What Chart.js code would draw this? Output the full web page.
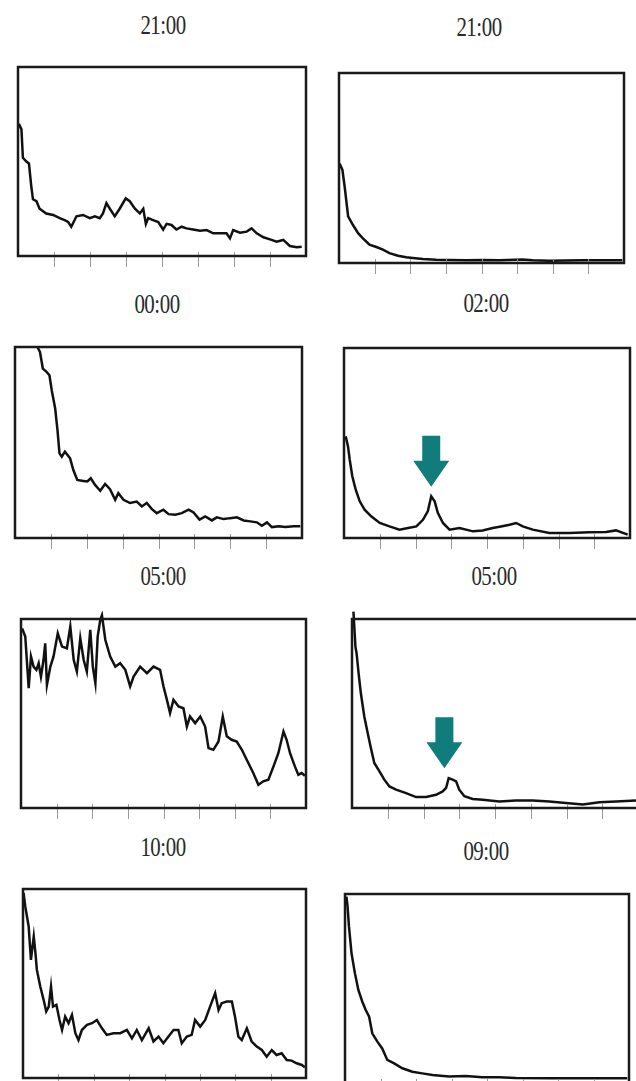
<!DOCTYPE html>
<html>
<head>
<meta charset="utf-8">
<script src="https://cdn.jsdelivr.net/npm/chart.js@4"></script>
<style>
  body { margin: 0; background: #fff; width: 636px; height: 1081px; overflow: hidden; position: relative; }
  canvas { position: absolute; }
  .title {
    position: absolute; font-family: "Liberation Serif", serif; font-size: 22px; color: #2a2a2a;
    transform: translate(-50%, -50%) scale(0.95, 1.2); white-space: nowrap; letter-spacing: -0.5px;
  }
</style>
</head>
<body>
<script>
// panel titles, left column then right column, row by row
const titles = ['21:00', '21:00', '00:00', '02:00', '05:00', '05:00', '10:00', '09:00'];
const tickValues = [12.5, 25, 37.5, 50, 62.5, 75, 87.5];

const xs1 = [0.3,1.2,1.7,2.9,3.8,4.6,5.2,6.4,7.5,9.8,12.2,14.5,16.2,17.4,18.5,20.3,22.6,24.9,26.7,28.4,29.5,30.7,31.9,33.6,35.3,37.4,38.8,40.6,42.3,43.5,44.4,45.2,46.9,48.7,50.4,51.6,53.3,55,56.8,58.5,60.8,63.2,65.5,67.8,70.1,72.4,73.6,74.7,77.1,79.4,81.1,82.9,85.2,87.5,89.8,92.1,94.4,96.8,98.5];
const ys1 = [70,67,52,50,49,37,30,29,25,22.5,21.7,20,19,18,15.5,21,21.7,20,21,20,22.5,28,25,21,25,30.5,29,25,22.5,25,17,20,19,18,14,17,16.4,14,15.5,14.6,14,13.4,13.7,12,12,12,9.3,13.7,12.3,12.9,14.6,12,9.9,8.8,7.6,8.5,5.3,4.6,4.9];

const xs2 = [0.2,1.2,2,3.2,4.9,6.7,8.4,10.7,13.1,15.4,17.7,20.7,23.6,25.9,29.4,34.1,38.7,44.6,50.4,56.2,64.4,67.9,73.7,85.4,99.4];
const ys2 = [52.4,49,40,24.5,20,15.7,13,9.6,8.4,7,5.2,3.8,3,2.6,2.1,1.7,1.6,1.4,1.6,1.4,1.9,1.4,1.2,1.4,1.4];

const xs3 = [7.8,8.7,9.7,11,12,12.8,14,14.8,15.5,16.3,17.4,19.2,20.3,21.7,23.8,25.2,26.4,27.9,29.7,31.4,33.1,34.9,36,37.8,40.1,42.4,44.2,45.9,47.7,49.4,51.7,53.5,55.8,58.1,60.5,62.2,64.3,66.3,68.6,70.3,72.7,75,77.3,79.7,82,84.3,86,87.8,89.5,91.9,94.2,97.1,99.4];
const ys3 = [100,97.4,88.7,87,85.2,77.4,67.8,56.5,44.3,42.6,45.2,41.7,35.7,30.4,29.9,29.6,31.3,27.8,24.7,28.3,25.6,20,23.5,20,18.3,19.1,16.5,18.3,15.1,13,14.8,12.5,12.2,13,14.8,13.4,9.6,11.3,9.2,10.8,9.9,10.4,10.8,9.2,8.7,8.2,6.4,8.2,5.7,6.1,5.7,6.1,6.1];

const xs4 = [0.6,1.4,2,2.9,4.1,5.5,7.2,9.5,12.5,15.9,19.4,22.4,25.3,27.6,29.3,30.5,31.7,32.8,34.6,36.9,40.4,45.1,48.5,52,54.9,57.9,60.2,62.5,66,71.8,78.8,85.8,91.6,95.1,99.2];
const ys4 = [53.5,48.2,41.2,32.5,25.4,19.3,14.9,11.4,7.9,6.1,4.4,5.3,6.1,9.6,14,21.9,19.3,13.2,7.9,4.4,5.3,3.5,4,5.3,6.1,7,7.9,6.1,4.4,2.6,2.6,3,3.2,4,1.8];

const xs5 = [0.4,1.5,2.7,3.5,4.4,5.4,6.2,7,7.9,8.5,9.1,10.3,11.4,12.9,14.4,16.1,17.3,18.5,19.6,20.8,22,23.1,24.3,25.2,26.1,26.9,27.8,28.4,29.6,31.3,33.1,34.8,36.6,38.3,39.5,41.8,44.2,46.5,48.8,50,51.2,52.3,53.5,55.3,57,58.2,59.3,61.1,62.9,64.6,65.8,67.5,69.3,70.8,72.2,73.9,75.7,77.5,79.2,81.5,83.3,85,86.8,88.6,90.3,92.1,93.2,94.4,96.1,97.3,98.5,99.6];
const ys5 = [95,90.7,63.4,80.1,74.8,73.1,76.6,69.5,78.3,87.1,65.1,74.8,80.1,92.4,85.4,84.5,96,78.3,72.2,89.8,78.3,72.2,94.2,74.8,66,90.7,99.5,102,88.9,80.1,74.8,76.6,73.1,64.3,69.5,74.8,71.3,74.8,73.1,64.3,57.2,50.2,57.2,53.7,52.8,43.1,48.4,44.9,48.4,43.1,31.7,30.8,35.2,48.4,37.9,36.1,35.2,30.8,25.5,18.5,12.3,14.1,15,22,29,40.5,36.1,29,22,17.6,18.5,17.1];

const xs6 = [0.5,0.8,1.2,1.6,2.3,3.1,4.3,5.5,6.6,7.8,9.6,11.3,13.1,15.4,18.9,22.4,25.9,29.4,31.7,32.9,33.8,35.2,36.4,37.5,39.3,42.2,45.7,51.5,57.3,63.2,69,74.8,80.7,86.5,92.3,99.3];
const ys6 = [103.9,96,85.4,81.9,71.3,60.7,48.4,39.6,31.7,23.8,19.4,15,11.4,9.7,7.9,5.8,5.8,7,8.8,10.6,15.8,15,14.1,9.7,6.2,4.8,4.4,3.5,4,4,3.5,2.6,1.8,3,3.5,4];

const xs7 = [0.2,0.8,2,2.8,3.8,4.4,4.9,6.1,7.3,8.2,9.1,9.9,10.6,11.8,12.9,13.8,14.9,16.1,17.3,18.5,19.6,20.8,22.6,24.4,26.1,27.9,29.6,32,34.4,36.7,38.5,40.2,42,44.4,46.1,47.9,49.6,51.4,53.2,54.9,56.1,57.9,59.6,60.8,62.6,64.4,66.1,67.9,69.1,70.2,72,73.8,74.9,76.1,77.3,79.1,80.8,82.6,84.4,86.1,87.9,89.6,91.4,93.2,94.9,96.7,98.5,99.6];
const ys7 = [97.9,90.8,80.2,62.5,74.9,66.1,57.2,48.4,41.3,35.2,37.8,48.4,37.8,38.7,30.7,25.4,32.5,29,33.4,23.7,20.1,25.4,28.1,29,30.7,26.3,22.8,23.7,23.7,25.4,21,25.4,20.1,26.3,19.3,21.9,18.4,21.9,25.4,25.4,18.4,21.9,22.8,30.7,27.2,30.7,37.8,44.9,36,39.6,40.5,40.5,32.5,21.9,20.1,26.3,19.3,16.6,14.8,11.3,14.8,12.2,13.1,9.5,9.2,7.8,6.9,5.7];

const xs8 = [0.5,0.9,1.4,2.3,3.5,4.7,6.1,7.3,8.5,9.6,11.4,13.1,14.9,17.3,20.2,23.7,27.2,30.8,36.6,42.5,48.4,54.2,60.1,71.8,83.6,99.4];
const ys8 = [98.6,93.3,82.7,68.6,58,49.2,43,38.6,35.1,26.3,21.9,18.3,12.2,10.4,7.8,6,5.1,4.2,3.4,3.7,3,3,2.6,2.5,2.5,2.5];

// arrows pointing at the marked peaks (null = no arrow)
const arrowX = [null, null, null, 30.5, null, 32.3, null, null];
const arrowY = [null, null, null, 27, null, 21, null, null];

const seriesX = [xs1, xs2, xs3, xs4, xs5, xs6, xs7, xs8];
const seriesY = [ys1, ys2, ys3, ys4, ys5, ys6, ys7, ys8];

// plot boxes on the page: left, top, right, bottom
const boxes = [
    [18, 67, 306, 256], [339, 73, 624, 263],
    [15, 347, 302, 538], [344, 348, 630, 538],
    [21, 619, 306, 808], [352, 619, 638, 808],
    [23, 889, 306, 1078], [345, 894, 629, 1083]
];
const titlePos = [
    [163, 26], [479, 28], [157, 305], [486, 304],
    [163, 577], [494, 577], [163, 848], [486, 852]
];

const pad = { left: 6, right: 6, top: 8, bottom: 14 };

const frameAndTicks = {
    id: 'frameAndTicks',
    afterDatasetsDraw(chart, args, opts) {
        const ctx = chart.ctx;
        const a = chart.chartArea;
        const xScale = chart.scales.x;
        const yScale = chart.scales.y;
        ctx.save();
        // tick marks below the bottom edge
        ctx.strokeStyle = '#9a9a9a';
        ctx.lineWidth = 1;
        tickValues.forEach(v => {
            const px = Math.round(xScale.getPixelForValue(v)) + 0.5;
            ctx.beginPath();
            ctx.moveTo(px, a.bottom - 4);
            ctx.lineTo(px, a.bottom + 11);
            ctx.stroke();
        });
        // box
        ctx.strokeStyle = '#1a1a1a';
        ctx.lineWidth = 2.5;
        ctx.strokeRect(a.left, a.top, a.right - a.left, a.bottom - a.top);
        // arrow
        if (opts.arrowX !== null) {
            const tx = xScale.getPixelForValue(opts.arrowX);
            const ty = yScale.getPixelForValue(opts.arrowY);
            const headW = 36, headH = 26, shaftW = 18, shaftH = 25;
            ctx.fillStyle = '#117c7c';
            ctx.beginPath();
            ctx.moveTo(tx, ty);
            ctx.lineTo(tx - headW / 2, ty - headH);
            ctx.lineTo(tx - shaftW / 2, ty - headH);
            ctx.lineTo(tx - shaftW / 2, ty - headH - shaftH);
            ctx.lineTo(tx + shaftW / 2, ty - headH - shaftH);
            ctx.lineTo(tx + shaftW / 2, ty - headH);
            ctx.lineTo(tx + headW / 2, ty - headH);
            ctx.closePath();
            ctx.fill();
        }
        ctx.restore();
    }
};

boxes.forEach((b, i) => {
    const canvas = document.createElement('canvas');
    canvas.width = (b[2] - b[0]) + pad.left + pad.right;
    canvas.height = (b[3] - b[1]) + pad.top + pad.bottom;
    canvas.style.left = (b[0] - pad.left) + 'px';
    canvas.style.top = (b[1] - pad.top) + 'px';
    document.body.appendChild(canvas);

    const t = document.createElement('div');
    t.className = 'title';
    t.textContent = titles[i];
    t.style.left = titlePos[i][0] + 'px';
    t.style.top = titlePos[i][1] + 'px';
    document.body.appendChild(t);

    new Chart(canvas.getContext('2d'), {
        type: 'line',
        data: {
            datasets: [{
                data: seriesX[i].map((x, k) => ({ x: x, y: seriesY[i][k] })),
                borderColor: '#111111',
                borderWidth: 2.5,
                pointRadius: 0,
                tension: 0,
                fill: false,
                clip: false
            }]
        },
        options: {
            responsive: false,
            animation: false,
            devicePixelRatio: 1,
            layout: { padding: pad },
            scales: {
                x: { type: 'linear', min: 0, max: 100, display: false },
                y: { min: 0, max: 100, display: false }
            },
            plugins: {
                legend: { display: false },
                tooltip: { enabled: false },
                frameAndTicks: { arrowX: arrowX[i], arrowY: arrowY[i] }
            }
        },
        plugins: [frameAndTicks]
    });
});
</script>
</body>
</html>
